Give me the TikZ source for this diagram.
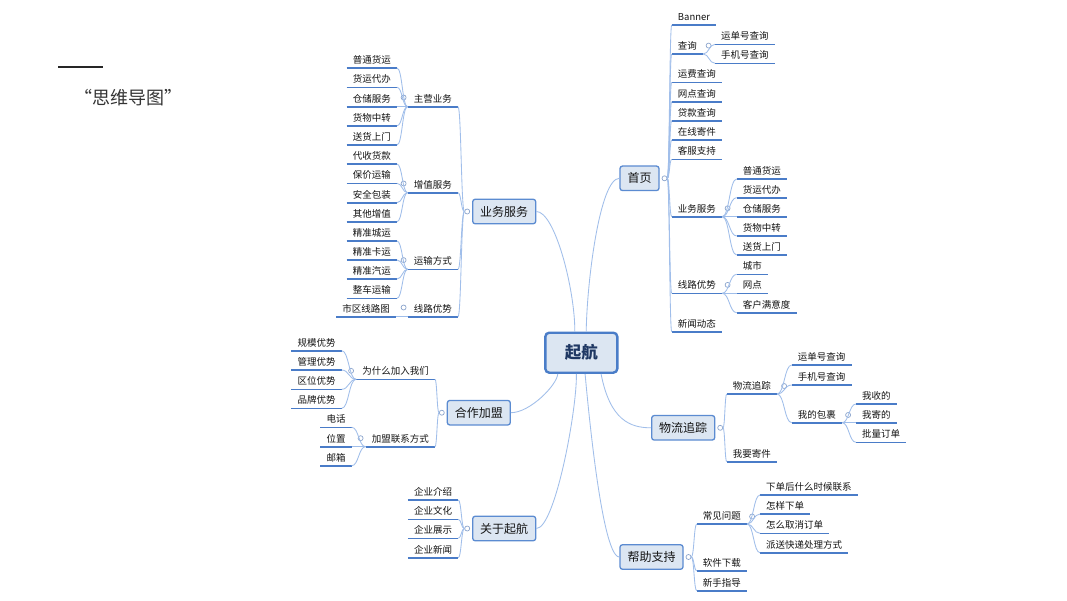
\documentclass[tikz,border=0pt]{standalone}
\usepackage{fontspec}
\setmainfont{Noto Sans CJK SC}
\usetikzlibrary{calc}
\definecolor{ulc}{RGB}{74,124,200}
\definecolor{connc}{RGB}{160,190,234}
\definecolor{boxf}{RGB}{220,230,242}
\definecolor{boxb}{RGB}{91,139,209}
\definecolor{cenb}{RGB}{74,125,200}
\definecolor{cent}{RGB}{31,56,99}
\definecolor{txt}{RGB}{20,20,20}
\definecolor{togc}{RGB}{140,165,205}
\newcommand\mmL[4]{\node[leaf,anchor=south east] (#1) at (#2,#3) {#4};}
\newcommand\mmR[4]{\node[leaf,anchor=south west] (#1) at (#2,#3) {#4};}
\newcommand\mmlink[2]{\draw[conn] let \p1=(#1), \p2=(#2) in (\p1) .. controls ({0.5*\x1+0.5*\x2},\y1) and ({0.5*\x1+0.5*\x2},\y2) .. (\p2);}
\begin{document}
\begin{tikzpicture}[x=1pt,y=-1pt,
  uline/.style={draw=ulc,line width=1.6pt},
  leaf/.style={font=\fontsize{9.5}{11}\selectfont,text=txt,inner xsep=6pt,inner ysep=2.5pt,
    text height=7.5pt,text depth=2pt,
    append after command={(\tikzlastnode.south west) edge[uline] (\tikzlastnode.south east)}},
  conn/.style={draw=connc,line width=0.85pt},
  topic/.style={draw=boxb,fill=boxf,rounded corners=2.5pt,line width=1.3pt,
    font=\fontsize{12}{14}\selectfont,text=txt,inner xsep=7.5pt,inner ysep=0pt,minimum height=24.5pt},
  central/.style={draw=cenb,fill=boxf,rounded corners=4pt,line width=2.4pt,
    font=\fontsize{16.5}{18}\selectfont\bfseries,text=cent,minimum width=72pt,minimum height=40pt},
  tog/.style={circle,draw=togc,fill=white,line width=0.7pt,minimum size=5pt,inner sep=0pt},
  ttl/.style={font=\fontsize{18}{21}\selectfont,text=black!80}
]
\fill[white] (0,0) rectangle (1067,600);
\useasboundingbox (0,0) rectangle (1067,600);

% title
\draw[black!85,line width=1.2pt] (58,67) -- (103,67);
\node[ttl] (title) at (128,98) {“思维导图”};

% central and topics
\node[central] (c) at (581.3,352.7) {起航};
\node[topic] (yw) at (504.2,211.5) {业务服务};
\node[topic] (hz) at (478.8,412.7) {合作加盟};
\node[topic] (gy) at (504.2,528.5) {关于起航};
\node[topic] (sy) at (639.5,178.3) {首页};
\node[topic] (wl) at (683.2,427.8) {物流追踪};
\node[topic] (bz) at (651.5,557) {帮助支持};

\node[tog,anchor=east,xshift=-2pt] (tyw) at (yw.west) {};
\node[tog,anchor=east,xshift=-2pt] (thz) at (hz.west) {};
\node[tog,anchor=east,xshift=-2pt] (tgy) at (gy.west) {};
\node[tog,anchor=west,xshift=2pt] (tsy) at (sy.east) {};
\node[tog,anchor=west,xshift=2pt] (twl) at (wl.east) {};
\node[tog,anchor=west,xshift=2pt] (tbz) at (bz.east) {};

\draw[conn] (yw.east) .. controls (555,211.5) and (575,290) .. (c.107);
\draw[conn] (sy.west) .. controls (600,178.3) and (587,280) .. (c.77);
\draw[conn] (hz.east) .. controls (530,412.7) and (557,385) .. (c.222);
\draw[conn] (gy.east) .. controls (555,528.5) and (577,410) .. (c.257);
\draw[conn] (bz.west) .. controls (600,557) and (585,370) .. (c.280);
\draw[conn] (wl.west) .. controls (630,427.8) and (610,420) .. (c.313);

% ===== 业务服务 =====
\mmL{zy}{458}{106.7}{主营业务}
\mmL{zz}{458}{192.7}{增值服务}
\mmL{ys}{458}{269.3}{运输方式}
\mmL{xl}{458}{316.7}{线路优势}
\foreach \k in {zy,zz,ys,xl}{\mmlink{tyw.west}{\k.south east}}
\foreach \k in {zy,zz,ys,xl}{\node[tog] (t\k) at ([xshift=-4pt,yshift=9.2pt]\k.south west) {};}
\mmL{a1}{397}{68}{普通货运}
\mmL{a2}{397}{87.3}{货运代办}
\mmL{a3}{397}{106.7}{仓储服务}
\mmL{a4}{397}{125.7}{货物中转}
\mmL{a5}{397}{145}{送货上门}
\foreach \k in {a1,a2,a3,a4,a5}{\mmlink{zy.south west}{\k.south east}}
\mmL{b1}{397}{164}{代收货款}
\mmL{b2}{397}{183.3}{保价运输}
\mmL{b3}{397}{202.7}{安全包装}
\mmL{b4}{397}{221.7}{其他增值}
\foreach \k in {b1,b2,b3,b4}{\mmlink{zz.south west}{\k.south east}}
\mmL{c1}{397}{241}{精准城运}
\mmL{c2}{397}{260}{精准卡运}
\mmL{c3}{397}{279}{精准汽运}
\mmL{c4}{397}{298.3}{整车运输}
\foreach \k in {c1,c2,c3,c4}{\mmlink{ys.south west}{\k.south east}}
\mmL{d1}{396}{316.7}{市区线路图}
\mmlink{xl.south west}{d1.south east}

% ===== 合作加盟 =====
\mmL{w0}{435}{379.3}{为什么加入我们}
\mmL{l0}{435}{446.7}{加盟联系方式}
\foreach \k in {w0,l0}{\mmlink{thz.west}{\k.south east}}
\foreach \k in {w0,l0}{\node[tog] (t\k) at ([xshift=-5pt,yshift=8.5pt]\k.south west) {};}
\mmL{e1}{341.7}{350.7}{规模优势}
\mmL{e2}{341.7}{370}{管理优势}
\mmL{e3}{341.7}{389.3}{区位优势}
\mmL{e4}{341.7}{408.3}{品牌优势}
\foreach \k in {e1,e2,e3,e4}{\mmlink{w0.south west}{\k.south east}}
\mmL{f1}{351.7}{427.3}{电话}
\mmL{f2}{351.7}{446.7}{位置}
\mmL{f3}{351.7}{465.7}{邮箱}
\foreach \k in {f1,f2,f3}{\mmlink{l0.south west}{\k.south east}}

% ===== 关于起航 =====
\mmL{g1}{458.3}{500}{企业介绍}
\mmL{g2}{458.3}{519.3}{企业文化}
\mmL{g3}{458.3}{538.3}{企业展示}
\mmL{g4}{458.3}{557.7}{企业新闻}
\foreach \k in {g1,g2,g3,g4}{\mmlink{tgy.west}{\k.south east}}

% ===== 首页 =====
\mmR{s1}{671.7}{25}{Banner}
\mmR{s2}{671.7}{54}{查询}
\mmR{s3}{671.7}{82.3}{运费查询}
\mmR{s4}{671.7}{101.7}{网点查询}
\mmR{s5}{671.7}{120.7}{贷款查询}
\mmR{s6}{671.7}{140}{在线寄件}
\mmR{s7}{671.7}{159.3}{客服支持}
\mmR{s8}{671.7}{216.7}{业务服务}
\mmR{s9}{671.7}{293.3}{线路优势}
\mmR{s10}{671.7}{331.7}{新闻动态}
\foreach \k in {s1,s2,s3,s4,s5,s6,s7,s8,s9,s10}{\mmlink{tsy.east}{\k.south west}}
\foreach \k in {s2,s8,s9}{\node[tog] (t\k) at ([xshift=5.5pt,yshift=8.4pt]\k.south east) {};}
\mmR{q1}{715}{44.3}{运单号查询}
\mmR{q2}{715}{63.3}{手机号查询}
\foreach \k in {q1,q2}{\mmlink{s2.south east}{\k.south west}}
\mmR{u1}{736.7}{179}{普通货运}
\mmR{u2}{736.7}{197.7}{货运代办}
\mmR{u3}{736.7}{216.7}{仓储服务}
\mmR{u4}{736.7}{236}{货物中转}
\mmR{u5}{736.7}{255}{送货上门}
\foreach \k in {u1,u2,u3,u4,u5}{\mmlink{s8.south east}{\k.south west}}
\mmR{v1}{736.7}{274.3}{城市}
\mmR{v2}{736.7}{293.3}{网点}
\mmR{v3}{736.7}{312.7}{客户满意度}
\foreach \k in {v1,v2,v3}{\mmlink{s9.south east}{\k.south west}}

% ===== 物流追踪 =====
\mmR{m1}{726.7}{394}{物流追踪}
\mmR{m2}{726.7}{461.7}{我要寄件}
\foreach \k in {m1,m2}{\mmlink{twl.east}{\k.south west}}
\node[tog] (tm1) at ([xshift=7pt,yshift=8pt]m1.south east) {};
\mmR{n1}{791.7}{365}{运单号查询}
\mmR{n2}{791.7}{385}{手机号查询}
\mmR{n3}{791.7}{422.7}{我的包裹}
\foreach \k in {n1,n2,n3}{\mmlink{m1.south east}{\k.south west}}
\node[tog] (tn3) at ([xshift=6pt,yshift=7.7pt]n3.south east) {};
\mmR{o1}{856}{404}{我收的}
\mmR{o2}{856}{422.7}{我寄的}
\mmR{o3}{856}{442.3}{批量订单}
\foreach \k in {o1,o2,o3}{\mmlink{n3.south east}{\k.south west}}

% ===== 帮助支持 =====
\mmR{h1}{696.7}{524}{常见问题}
\mmR{h2}{696.7}{570.7}{软件下载}
\mmR{h3}{696.7}{590.7}{新手指导}
\foreach \k in {h1,h2,h3}{\mmlink{tbz.east}{\k.south west}}
\node[tog] (th1) at ([xshift=5pt,yshift=7.5pt]h1.south east) {};
\mmR{k1}{760}{495}{下单后什么时候联系}
\mmR{k2}{760}{514}{怎样下单}
\mmR{k3}{760}{533.3}{怎么取消订单}
\mmR{k4}{760}{552.7}{派送快递处理方式}
\foreach \k in {k1,k2,k3,k4}{\mmlink{h1.south east}{\k.south west}}
\end{tikzpicture}
\end{document}
